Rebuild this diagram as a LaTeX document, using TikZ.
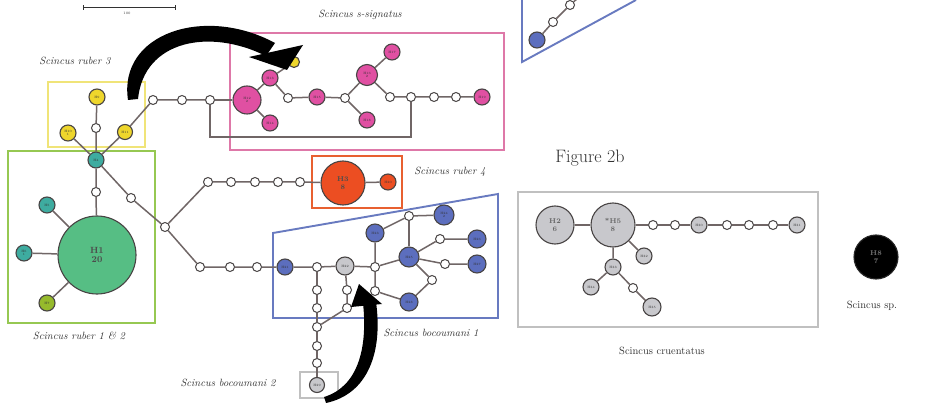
\documentclass[tikz,border=0pt]{standalone}
\usetikzlibrary{calc}
\definecolor{linkgray}{RGB}{112,102,102}
\definecolor{nodeedge}{RGB}{72,68,68}
\definecolor{labgray}{RGB}{50,50,50}
\definecolor{pinkfill}{RGB}{224,80,162}
\definecolor{pinkbox}{RGB}{222,120,168}
\definecolor{yelfill}{RGB}{238,214,44}
\definecolor{yelbox}{RGB}{240,228,120}
\definecolor{tealfill}{RGB}{62,172,160}
\definecolor{greenfill}{RGB}{86,190,132}
\definecolor{greenbox}{RGB}{150,200,82}
\definecolor{olivefill}{RGB}{150,186,44}
\definecolor{redfill}{RGB}{236,78,34}
\definecolor{redbox}{RGB}{232,96,48}
\definecolor{bluefill}{RGB}{92,110,190}
\definecolor{bluebox}{RGB}{104,122,192}
\definecolor{grayfill}{RGB}{200,200,204}
\definecolor{graybox}{RGB}{192,192,192}
\tikzset{
  x=1pt, y=-1pt,
  hap/.style={circle, draw=nodeedge, line width=1.1pt, inner sep=0pt, minimum size=#1,
              font=\fontsize{3.2}{3.6}\selectfont, text=labgray, align=center},
  hap/.default=16pt,
  mv/.style={circle, draw=nodeedge, fill=white, line width=1pt, inner sep=0pt, minimum size=9pt},
  lnk/.style={draw=linkgray, line width=1.5pt},
  grp/.style={line width=1.9pt},
  lab/.style={font=\fontsize{10.5}{12}\selectfont\itshape, text=labgray},
  ulab/.style={font=\fontsize{10.5}{12}\selectfont, text=labgray},
  bigtxt/.style={font=\fontsize{7}{7.5}\selectfont\bfseries}
}
\begin{document}
\begin{tikzpicture}
\useasboundingbox[fill=white] (0,0) rectangle (933,403);

% ---------- group boxes ----------
\draw[grp, yelbox] (48,82) rectangle (145,147);
\draw[grp, greenbox] (8,151) rectangle (155,323);
\draw[grp, pinkbox] (230,33) rectangle (504,150);
\draw[grp, redbox] (312,156) rectangle (402,208);
\draw[grp, bluebox] (273,233) -- (498,194) -- (498,318) -- (273,318) -- cycle;
\draw[grp, bluebox] (522,0) -- (522,62) -- (636,0);
\draw[grp, graybox] (518,192) rectangle (818,327);
\draw[line width=1.2pt, graybox] (300,372) rectangle (338,398);

% ---------- scale bar ----------
\draw[line width=1pt, labgray] (83,8) -- (175,8);
\draw[line width=0.8pt, labgray] (83,5.5) -- (83,10.5) (175,5.5) -- (175,10.5);
\node[font=\fontsize{3.5}{4}\selectfont, text=labgray] (scl) at (127,13.5) {100};

% ---------- Scincus ruber 3 ----------
\node[hap, fill=yelfill] (y1) at (97,97) {H9};
\node[mv] (yw) at (96,128) {};
\node[hap, fill=yelfill] (y2) at (68,133) {H10\\1};
\node[hap=15pt, fill=yelfill] (y3) at (125,132) {H11};

% ---------- Scincus ruber 1 & 2 ----------
\node[hap, fill=tealfill] (t0) at (96,160) {H4};
\node[mv] (gw) at (96,192) {};
\node[hap=78pt, fill=greenfill, text=black!70, font=\fontsize{9}{9.5}\selectfont\bfseries] (g1) at (97,255) {H1\\20};
\node[hap, fill=tealfill] (t1) at (47,205) {H5};
\node[hap, fill=tealfill] (t2) at (24,253) {H6\\1};
\node[hap, fill=olivefill] (o1) at (47,303) {H7};

\draw[lnk] (y1) -- (yw) -- (t0);
\draw[lnk] (y2) -- (t0);
\draw[lnk] (y3) -- (t0);
\draw[lnk] (t0) -- (gw) -- (g1);
\draw[lnk] (g1) -- (t1);
\draw[lnk] (g1) -- (t2);
\draw[lnk] (g1) -- (o1);

% ---------- backbone ----------
\node[mv] (d1) at (131,198) {};
\node[mv] (jn) at (165,227) {};
\draw[lnk] (t0) -- (d1) -- (jn);

\node[mv] (a1) at (153,100) {};
\node[mv] (a2) at (182,100) {};
\node[mv] (a3) at (210,100) {};
\draw[lnk] (y3) -- (a1) -- (a2) -- (a3);

% ---------- Scincus s-signatus ----------
\node[hap=28pt, fill=pinkfill] (p0) at (247,100) {H12\\2};
\node[hap, fill=pinkfill] (p1) at (270,78) {H13};
\node[hap, fill=pinkfill] (p2) at (270,123) {H14};
\node[hap=11pt, fill=yelfill] (py) at (294,62) {};
\node[mv] (pw1) at (288,98) {};
\node[hap, fill=pinkfill] (p3) at (317,97) {H15};
\node[mv] (pw2) at (345,98) {};
\node[hap=21pt, fill=pinkfill] (p4) at (367,75) {H16\\2};
\node[hap, fill=pinkfill] (p5) at (392,52) {H17};
\node[hap, fill=pinkfill] (p6) at (367,120) {H18};
\node[mv] (pw3) at (390,97) {};
\node[mv] (pw4) at (411,97) {};
\node[mv] (pw5) at (434,97) {};
\node[mv] (pw6) at (456,97) {};
\node[hap, fill=pinkfill] (p7) at (482,97) {H19};

\draw[lnk] (a3) -- (p0);
\draw[lnk] (p0) -- (p1);
\draw[lnk] (p0) -- (p2);
\draw[lnk] (p1) -- (py);
\draw[lnk] (p1) -- (pw1) -- (p3) -- (pw2);
\draw[lnk] (pw2) -- (p4);
\draw[lnk] (pw2) -- (p6);
\draw[lnk] (p4) -- (p5);
\draw[lnk] (p4) -- (pw3) -- (pw4) -- (pw5) -- (pw6) -- (p7);
\coordinate (lpA) at (210,137);
\coordinate (lpB) at (411,137);
\draw[lnk] (a3) -- (lpA) -- (lpB) -- (pw4);

% ---------- Scincus ruber 4 ----------
\node[mv] (r1) at (208,182) {};
\node[mv] (r2) at (231,182) {};
\node[mv] (r3) at (255,182) {};
\node[mv] (r4) at (278,182) {};
\node[mv] (r5) at (300,182) {};
\node[hap=44pt, fill=redfill, text=black!70, bigtxt] (rd0) at (343,183) {H3\\8};
\node[hap, fill=redfill] (rd1) at (388,182) {H20};
\draw[lnk] (jn) -- (r1) -- (r2) -- (r3) -- (r4) -- (r5) -- (rd0) -- (rd1);

% ---------- Scincus bocoumani 1 ----------
\node[mv] (b1) at (200,267) {};
\node[mv] (b2) at (230,267) {};
\node[mv] (b3) at (257,267) {};
\node[hap, fill=bluefill] (bl0) at (285,267) {H21};
\node[mv] (bw1) at (317,267) {};
\node[hap=18pt, fill=grayfill] (bg) at (345,266) {H22};
\node[mv] (bw2) at (375,267) {};
\node[hap=18pt, fill=bluefill] (bl1) at (375,233) {H23};
\node[mv] (bw3) at (409,216) {};
\node[hap=20pt, fill=bluefill] (bl2) at (444,215) {H24\\2};
\node[hap=20pt, fill=bluefill] (bl3) at (409,257) {H25};
\node[mv] (bw4) at (440,239) {};
\node[hap=18pt, fill=bluefill] (bl4) at (477,239) {H26};
\node[mv] (bw5) at (445,264) {};
\node[hap=18pt, fill=bluefill] (bl5) at (477,264) {H27};
\node[mv] (bw6) at (432,280) {};
\node[hap=18pt, fill=bluefill] (bl6) at (409,302) {H28};
\node[mv] (bw7) at (375,291) {};

\draw[lnk] (jn) -- (b1) -- (b2) -- (b3) -- (bl0) -- (bw1) -- (bg) -- (bw2) -- (bl3);
\draw[lnk] (bw2) -- (bl1) -- (bw3) -- (bl2);
\draw[lnk] (bw3) -- (bl3);
\draw[lnk] (bl3) -- (bw4) -- (bl4);
\draw[lnk] (bl3) -- (bw5) -- (bl5);
\draw[lnk] (bl3) -- (bw6) -- (bl6);
\draw[lnk] (bw2) -- (bw7) -- (bl6);

% ---------- Scincus bocoumani 2 ----------
\node[mv] (c1) at (317,290) {};
\node[mv] (c2) at (317,308) {};
\node[mv] (c3) at (317,327) {};
\node[mv] (c4) at (317,346) {};
\node[mv] (c5) at (317,363) {};
\node[hap=15pt, fill=grayfill] (c6) at (317,385) {H29};
\draw[lnk] (bw1) -- (c1) -- (c2) -- (c3) -- (c4) -- (c5) -- (c6);
\node[mv] (e1) at (347,290) {};
\node[mv] (e2) at (347,308) {};
\draw[lnk] (bg) -- (e1) -- (e2) -- (c3);

% ---------- partial group, upper right ----------
\node[hap, fill=bluefill] (u0) at (537,40) {};
\node[mv] (u1) at (553,22) {};
\node[mv] (u2) at (570,5) {};
\coordinate (u3) at (578,-2);
\draw[lnk] (u0) -- (u1) -- (u2) -- (u3);

% ---------- Scincus cruentatus ----------
\node[hap=38pt, fill=grayfill, bigtxt, text=black!60] (k0) at (555,225) {H2\\6};
\node[hap=44pt, fill=grayfill, bigtxt, text=black!60] (k1) at (613,225) {*H5\\8};
\node[mv] (kw1) at (653,225) {};
\node[mv] (kw2) at (675,225) {};
\node[hap, fill=grayfill] (k2) at (699,225) {H30};
\node[mv] (kw3) at (727,225) {};
\node[mv] (kw4) at (749,225) {};
\node[mv] (kw5) at (773,225) {};
\node[hap, fill=grayfill] (k3) at (797,225) {H31};
\node[hap, fill=grayfill] (k4) at (644,256) {H32};
\node[hap, fill=grayfill] (k5) at (613,267) {H33};
\node[hap, fill=grayfill] (k6) at (591,287) {H34};
\node[mv] (kw6) at (633,288) {};
\node[hap=18pt, fill=grayfill] (k7) at (652,307) {H35};
\draw[lnk] (k0) -- (k1) -- (kw1) -- (kw2) -- (k2) -- (kw3) -- (kw4) -- (kw5) -- (k3);
\draw[lnk] (k1) -- (k4);
\draw[lnk] (k1) -- (k5) -- (k6);
\draw[lnk] (k5) -- (kw6) -- (k7);

% ---------- Scincus sp. ----------
\node[hap=44pt, fill=black, draw=black!85, bigtxt, text=black!55] (s0) at (876,257) {H8\\7};

% ---------- curved arrows ----------
\fill[black] (128,100) .. controls (118,33) and (205,5) .. (275,43)
  -- (266,56) .. controls (210,28) and (144,40) .. (138,99) -- cycle;
\fill[black] (249,57) -- (303,45) -- (287,70) -- cycle;
\fill[black] (326,403) .. controls (368,394) and (383,352) .. (376,302)
  -- (363,303) .. controls (368,350) and (357,387) .. (324,397) -- cycle;
\fill[black] (359,284) -- (382,304) -- (351,307) -- cycle;

% ---------- labels ----------
\node[lab] (L1) at (75,61) {Scincus ruber 3};
\node[lab] (L2) at (360,15) {Scincus s-signatus};
\node[lab] (L3) at (450,172) {Scincus ruber 4};
\node[lab] (L4) at (79,336) {Scincus ruber 1 \& 2};
\node[lab] (L5) at (431,333) {Scincus bocoumani 1};
\node[lab] (L6) at (228,383) {Scincus bocoumani 2};
\node[ulab] (L7) at (662,351) {Scincus cruentatus};
\node[ulab] (L8) at (872,306) {Scincus sp.};
\node[font=\fontsize{18}{20}\selectfont, text=labgray] (fig) at (590,158) {Figure 2b};
\end{tikzpicture}
\end{document}
